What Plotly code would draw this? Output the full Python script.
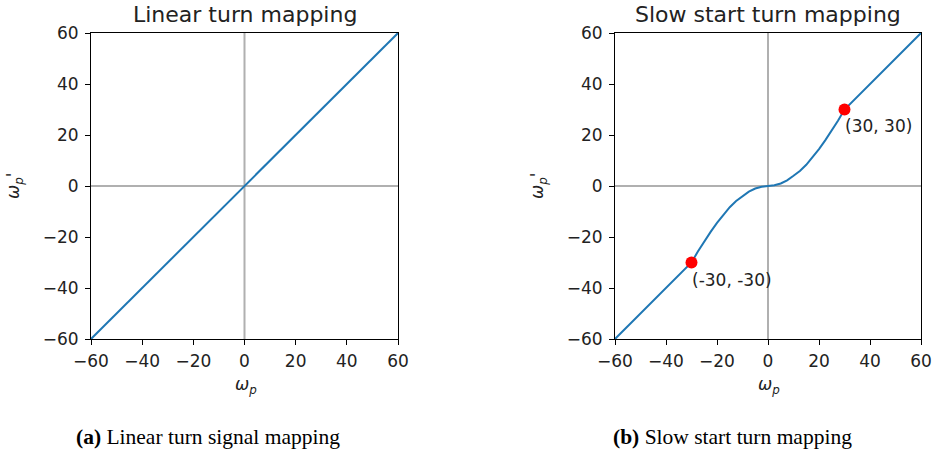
import plotly.graph_objects as go

W, H = 936, 455

# ---- data ----
x_linear = [-60, 60]
y_linear = [-60, 60]

x_slow = [-60, -30, -27.5, -25, -22.5, -20, -17.5, -15, -12.5, -10, -7.5, -5, -2.5, 0,
          2.5, 5, 7.5, 10, 12.5, 15, 17.5, 20, 22.5, 25, 27.5, 30, 60]
y_slow = [-60, -30, -25.7, -21.7, -18, -14.5, -11.2, -8.3, -5.9, -4.0, -2.2, -1.0, -0.3, 0,
          0.3, 1.0, 2.2, 4.0, 5.9, 8.3, 11.2, 14.5, 18, 21.7, 25.7, 30, 60]

pts_x = [-30, 30]
pts_y = [-30, 30]
pts_labels = ["(-30, -30)", "(30, 30)"]

ticks = [-60, -40, -20, 0, 20, 40, 60]
tick_text = ["\u221260", "\u221240", "\u221220", "0", "20", "40", "60"]

titles = ["Linear turn mapping", "Slow start turn mapping"]
captions = ["<b>(a)</b> Linear turn signal mapping", "<b>(b)</b> Slow start turn mapping"]

# ---- layout geometry (reference pixels) ----
left_px = [(91, 398), (615, 921)]
top_px, bot_px = 33, 339

def px_x(p):
    return p / W

def px_y(p):
    return 1 - p / H

BLUE = "#1f77b4"
GREY = "#b0b0b0"
FONT = "DejaVu Sans"
TXT = "#222222"

fig = go.Figure()

for i in range(2):
    xa = "x" if i == 0 else "x2"
    ya = "y" if i == 0 else "y2"
    fig.add_trace(go.Scatter(x=[0, 0], y=[-60, 60], mode="lines", line=dict(color=GREY, width=2),
                             xaxis=xa, yaxis=ya, showlegend=False, hoverinfo="skip"))
    fig.add_trace(go.Scatter(x=[-60, 60], y=[0, 0], mode="lines", line=dict(color=GREY, width=2),
                             xaxis=xa, yaxis=ya, showlegend=False, hoverinfo="skip"))

fig.add_trace(go.Scatter(x=x_linear, y=y_linear, mode="lines", line=dict(color=BLUE, width=2),
                         xaxis="x", yaxis="y", showlegend=False))
fig.add_trace(go.Scatter(x=x_slow, y=y_slow, mode="lines", line=dict(color=BLUE, width=2),
                         xaxis="x2", yaxis="y2", showlegend=False))
fig.add_trace(go.Scatter(x=pts_x, y=pts_y, mode="markers", marker=dict(color="red", size=12),
                         xaxis="x2", yaxis="y2", showlegend=False, cliponaxis=False))

axis_common = dict(range=[-60, 60], tickmode="array", tickvals=ticks, ticktext=tick_text,
                   ticks="outside", ticklen=5, tickwidth=1, tickcolor="black",
                   showline=True, linecolor="black", linewidth=1, mirror=True,
                   showgrid=False, zeroline=False, fixedrange=True,
                   ticklabeloverflow="allow",
                   tickfont=dict(family=FONT, size=17, color=TXT))

ydom = [px_y(bot_px), px_y(top_px)]
fig.update_layout(
    width=W, height=H,
    margin=dict(l=0, r=0, t=0, b=0, autoexpand=False),
    plot_bgcolor="white", paper_bgcolor="white",
    xaxis=dict(domain=[px_x(left_px[0][0]), px_x(left_px[0][1])], anchor="y",
               ticklabelstandoff=2, **axis_common),
    yaxis=dict(domain=ydom, anchor="x", ticklabelstandoff=3, **axis_common),
    xaxis2=dict(domain=[px_x(left_px[1][0]), px_x(left_px[1][1])], anchor="y2",
                ticklabelstandoff=2, **axis_common),
    yaxis2=dict(domain=ydom, anchor="x2", ticklabelstandoff=3, **axis_common),
    font=dict(family=FONT, color=TXT),
)

ann = []
for i in range(2):
    l, r = left_px[i]
    cx = (l + r) / 2
    ann.append(dict(text=titles[i], x=px_x(cx), y=px_y(15), xref="paper", yref="paper",
                    showarrow=False, xanchor="center", yanchor="middle",
                    font=dict(family=FONT, size=22, color=TXT)))
    ann.append(dict(text="<i>ω<sub>p</sub></i>", x=px_x(cx + 1), y=px_y(385), xref="paper", yref="paper",
                    showarrow=False, xanchor="center", yanchor="middle",
                    font=dict(family=FONT, size=17, color=TXT)))
    ann.append(dict(text="<i>ω<sub>p</sub></i>'", x=px_x(l - 77), y=px_y(186), xref="paper", yref="paper",
                    showarrow=False, xanchor="center", yanchor="middle", textangle=-90,
                    font=dict(family=FONT, size=17, color=TXT)))

cap_cx = [208, 732]
for i in range(2):
    ann.append(dict(text=captions[i], x=px_x(cap_cx[i]), y=px_y(437), xref="paper", yref="paper",
                    showarrow=False, xanchor="center", yanchor="middle",
                    font=dict(family="Liberation Serif", size=21.5, color="black")))

for xv, yv, t in zip(pts_x, pts_y, pts_labels):
    ann.append(dict(text=t, x=xv, y=yv, xref="x2", yref="y2", showarrow=False,
                    xanchor="left", yanchor="top", xshift=-2, yshift=-5,
                    font=dict(family=FONT, size=17, color=TXT)))

fig.update_layout(annotations=ann)

fig.write_html("out.html",
               config={"displayModeBar": False, "staticPlot": True},
               post_script="document.body.style.margin='0';document.body.style.overflow='hidden';")
